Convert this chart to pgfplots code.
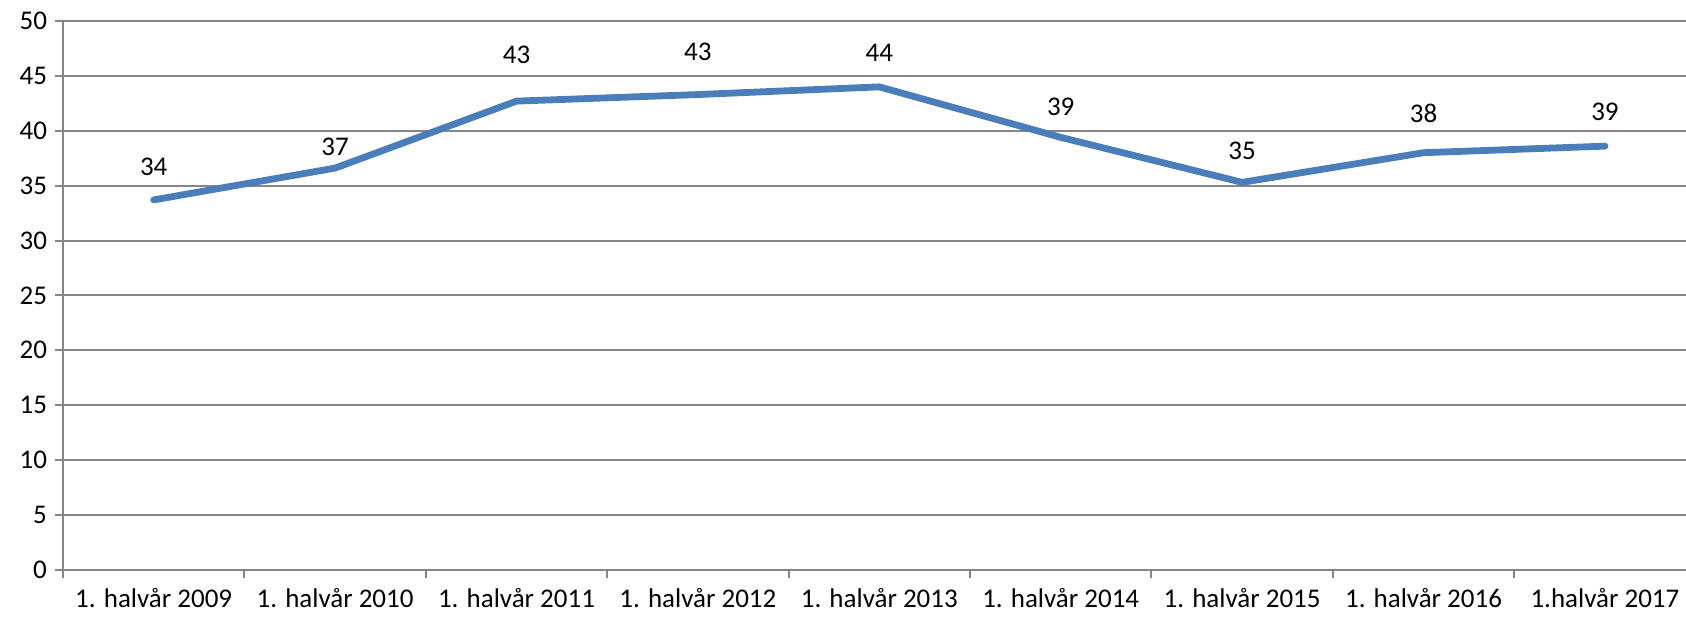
\documentclass[border=0pt]{standalone}
\usepackage{pgfplots}
\pgfplotsset{compat=1.18}
\usepackage{fontspec}
\setmainfont{Carlito}
\definecolor{linec}{RGB}{74,126,187}
\definecolor{gridc}{RGB}{134,134,134}
\pgfplotstableread{
x y
0 33.7
1 36.6
2 42.7
3 43.3
4 44.0
5 39.4
6 35.3
7 38.0
8 38.6
}\maindata
\pgfplotstableread{
x y label
0 36.7 34
1 38.5 37
2 46.9 43
3 47.2 43
4 47.1 44
5 42.2 39
6 38.2 35
7 41.6 38
8 41.7 39
}\labeldata
\begin{document}
\begin{tikzpicture}
\useasboundingbox (-31.5pt,-23.65pt) rectangle (811.5pt,284.9pt);
\begin{axis}[
  at={(0,0)}, anchor=south west, scale only axis,
  width=811.5pt, height=274.4pt,
  xmin=-0.5, xmax=8.447, ymin=0, ymax=50,
  ytick={0,5,...,50},
  xtick={0,...,8},
  xticklabels={1. halvår 2009,1. halvår 2010,1. halvår 2011,1. halvår 2012,1. halvår 2013,1. halvår 2014,1. halvår 2015,1. halvår 2016,1.halvår 2017},
  minor xtick={-0.5,0.5,...,7.5},
  axis x line*=bottom, axis y line*=left,
  axis line style={-, gridc, line width=1pt},
  ymajorgrids, grid style={gridc, line width=1pt},
  major x tick style={draw=none},
  minor x tick style={gridc, line width=1pt},
  major y tick style={gridc, line width=1pt},
  major tick length=4pt, minor tick length=4pt, tick align=outside,
  ticklabel style={font=\fontsize{13.5}{15}\selectfont, black},
  xticklabel style={yshift=-1.6pt},
  yticklabel style={xshift=-0.5pt},
  /pgf/number format/assume math mode=true,
  clip=false,
]
\addplot[linec, line width=3.4pt, line cap=round, line join=round] table[x=x,y=y] {\maindata};
\addplot[draw=none, mark=none, nodes near coords, point meta=explicit symbolic,
  nodes near coords style={anchor=center, font=\fontsize{13.5}{15}\selectfont, black}]
  table[x=x,y=y,meta=label] {\labeldata};
\end{axis}
\end{tikzpicture}
\end{document}
